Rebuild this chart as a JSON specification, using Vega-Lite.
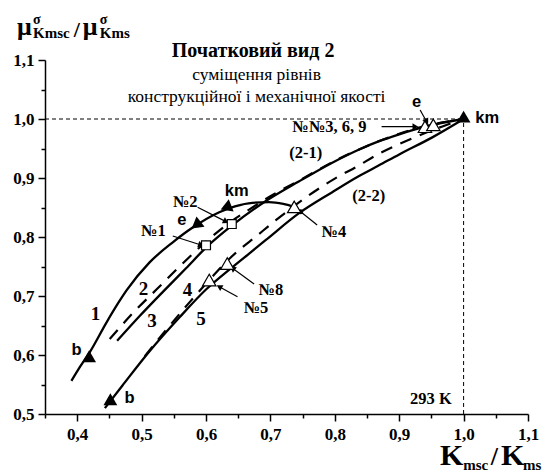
{
  "$schema": "https://vega.github.io/schema/vega-lite/v6.json",
  "width": 483,
  "height": 354,
  "autosize": {"type": "none"},
  "padding": {"left": 45, "top": 60, "right": 15, "bottom": 59},
  "background": "white",
  "config": {"view": {"stroke": null}},
  "datasets": {
    "curves": [
      {"c": "1", "x": 0.391, "y": 0.556}, {"c": "1", "x": 0.405, "y": 0.581}, {"c": "1", "x": 0.4196, "y": 0.605},
      {"c": "1", "x": 0.4454, "y": 0.655}, {"c": "1", "x": 0.466, "y": 0.692}, {"c": "1", "x": 0.4763, "y": 0.709},
      {"c": "1", "x": 0.5124, "y": 0.757}, {"c": "1", "x": 0.5484, "y": 0.791}, {"c": "1", "x": 0.5793, "y": 0.816},
      {"c": "1", "x": 0.6206, "y": 0.842}, {"c": "1", "x": 0.645, "y": 0.852}, {"c": "1", "x": 0.672, "y": 0.858},
      {"c": "1", "x": 0.698, "y": 0.859}, {"c": "1", "x": 0.72, "y": 0.856}, {"c": "1", "x": 0.737, "y": 0.851},
      {"c": "3", "x": 0.462, "y": 0.624}, {"c": "3", "x": 0.497, "y": 0.666}, {"c": "3", "x": 0.533, "y": 0.707},
      {"c": "3", "x": 0.569, "y": 0.747}, {"c": "3", "x": 0.6, "y": 0.782}, {"c": "3", "x": 0.641, "y": 0.82},
      {"c": "3", "x": 0.693, "y": 0.861}, {"c": "3", "x": 0.744, "y": 0.894}, {"c": "3", "x": 0.796, "y": 0.926},
      {"c": "3", "x": 0.837, "y": 0.948}, {"c": "3", "x": 0.868, "y": 0.962}, {"c": "3", "x": 0.9, "y": 0.974},
      {"c": "3", "x": 0.94, "y": 0.987}, {"c": "3", "x": 1.0, "y": 1.0},
      {"c": "5", "x": 0.443, "y": 0.51}, {"c": "5", "x": 0.47, "y": 0.548}, {"c": "5", "x": 0.512, "y": 0.606},
      {"c": "5", "x": 0.559, "y": 0.664}, {"c": "5", "x": 0.6, "y": 0.711}, {"c": "5", "x": 0.641, "y": 0.749},
      {"c": "5", "x": 0.667, "y": 0.772}, {"c": "5", "x": 0.693, "y": 0.795}, {"c": "5", "x": 0.744, "y": 0.84},
      {"c": "5", "x": 0.796, "y": 0.876}, {"c": "5", "x": 0.837, "y": 0.903}, {"c": "5", "x": 0.868, "y": 0.921},
      {"c": "5", "x": 0.9, "y": 0.94}, {"c": "5", "x": 0.95, "y": 0.968}, {"c": "5", "x": 1.0, "y": 1.0}
    ],
    "dashed": [
      {"c": "2", "x": 0.4505, "y": 0.627}, {"c": "2", "x": 0.489, "y": 0.674}, {"c": "2", "x": 0.525, "y": 0.713},
      {"c": "2", "x": 0.559, "y": 0.75}, {"c": "2", "x": 0.6, "y": 0.792}, {"c": "2", "x": 0.64, "y": 0.827},
      {"c": "2", "x": 0.662, "y": 0.843}, {"c": "2", "x": 0.7, "y": 0.869}, {"c": "2", "x": 0.75, "y": 0.899},
      {"c": "2", "x": 0.8, "y": 0.929}, {"c": "2", "x": 0.87, "y": 0.963}, {"c": "2", "x": 0.94, "y": 0.988},
      {"c": "2", "x": 1.0, "y": 1.0},
      {"c": "4", "x": 0.505, "y": 0.598}, {"c": "4", "x": 0.54, "y": 0.645}, {"c": "4", "x": 0.575, "y": 0.69},
      {"c": "4", "x": 0.61, "y": 0.733}, {"c": "4", "x": 0.64, "y": 0.767}, {"c": "4", "x": 0.68, "y": 0.803},
      {"c": "4", "x": 0.708, "y": 0.828}, {"c": "4", "x": 0.755, "y": 0.867}, {"c": "4", "x": 0.8, "y": 0.899},
      {"c": "4", "x": 0.832, "y": 0.918}, {"c": "4", "x": 0.87, "y": 0.942}, {"c": "4", "x": 0.909, "y": 0.962},
      {"c": "4", "x": 0.966, "y": 0.987}, {"c": "4", "x": 1.0, "y": 1.0}
    ],
    "refs": [
      {"x": 0.35, "y": 1.0, "x2": 1.0, "y2": 1.0},
      {"x": 1.0, "y": 0.5, "x2": 1.0, "y2": 1.0}
    ],
    "points": [
      {"m": "b", "x": 0.4185, "y": 0.598},
      {"m": "b", "x": 0.4515, "y": 0.525},
      {"m": "km", "x": 1.0, "y": 1.004},
      {"m": "e", "x": 0.5846, "y": 0.8203},
      {"m": "km1", "x": 0.631, "y": 0.85},
      {"m": "open", "x": 0.605, "y": 0.727},
      {"m": "open", "x": 0.633, "y": 0.755},
      {"m": "open", "x": 0.737, "y": 0.851},
      {"m": "open", "x": 0.94, "y": 0.987},
      {"m": "open", "x": 0.953, "y": 0.99},
      {"m": "square", "x": 0.6, "y": 0.786},
      {"m": "square", "x": 0.64, "y": 0.822}
    ],
    "arrows": [
      {"h": "tri", "x": 0.9427, "y": 0.9954, "x2": 0.9325, "y2": 1.0153},
      {"h": "tri", "x": 0.9252, "y": 0.987, "x2": 0.8727, "y2": 0.987},
      {"h": "dot", "x": 0.747, "y": 0.8429, "x2": 0.7726, "y2": 0.8203},
      {"h": "tri", "x": 0.6412, "y": 0.747, "x2": 0.6747, "y2": 0.7203},
      {"h": "tri", "x": 0.6206, "y": 0.7158, "x2": 0.6489, "y2": 0.6988},
      {"h": "tri", "x": 0.631, "y": 0.826, "x2": 0.587, "y2": 0.8503},
      {"h": "tri", "x": 0.5923, "y": 0.7864, "x2": 0.5484, "y2": 0.8017}
    ],
    "texts": [
      {"g": "title", "t": "Початковий вид 2", "x": 0.6732, "y": 1.1051},
      {"g": "subtitle", "t": "суміщення рівнів", "x": 0.6785, "y": 1.0661},
      {"g": "subtitle", "t": "конструкційної і механічної якості", "x": 0.6785, "y": 1.0293},
      {"g": "curve", "t": "1", "x": 0.4286, "y": 0.6593},
      {"g": "curve", "t": "2", "x": 0.5031, "y": 0.7017},
      {"g": "curve", "t": "3", "x": 0.5162, "y": 0.648},
      {"g": "curve", "t": "4", "x": 0.5711, "y": 0.7005},
      {"g": "curve", "t": "5", "x": 0.5923, "y": 0.6508},
      {"g": "label", "t": "№№3, 6, 9", "x": 0.7915, "y": 0.9785},
      {"g": "label", "t": "(2-1)", "x": 0.7547, "y": 0.9339},
      {"g": "label", "t": "(2-2)", "x": 0.8526, "y": 0.861},
      {"g": "label", "t": "№4", "x": 0.7984, "y": 0.8005},
      {"g": "label", "t": "№2", "x": 0.5677, "y": 0.8514},
      {"g": "label", "t": "№1", "x": 0.5181, "y": 0.8017},
      {"g": "label", "t": "№8", "x": 0.7005, "y": 0.7012},
      {"g": "label", "t": "№5", "x": 0.6774, "y": 0.6717},
      {"g": "label", "t": "293 K", "x": 0.9492, "y": 0.5164},
      {"g": "point", "t": "e", "x": 0.927, "y": 1.0203},
      {"g": "point", "t": "km", "x": 1.0366, "y": 0.9932},
      {"g": "point", "t": "km", "x": 0.6477, "y": 0.87},
      {"g": "point", "t": "e", "x": 0.5626, "y": 0.8203},
      {"g": "point", "t": "b", "x": 0.399, "y": 0.6},
      {"g": "point", "t": "b", "x": 0.4814, "y": 0.518},
      {"g": "bigsym", "t": "μ", "x": 0.3067, "y": 1.1424},
      {"g": "bigsym", "t": "μ", "x": 0.4088, "y": 1.1424},
      {"g": "sup", "t": "σ", "x": 0.3314, "y": 1.1609},
      {"g": "sup", "t": "σ", "x": 0.435, "y": 1.1609},
      {"g": "script", "t": "Kmsc", "x": 0.3314, "y": 1.1373},
      {"g": "script", "t": "Kms", "x": 0.435, "y": 1.1373},
      {"g": "slash", "t": "/", "x": 0.3948, "y": 1.139},
      {"g": "bigK", "t": "K", "x": 0.9634, "y": 0.4136},
      {"g": "bigK", "t": "K", "x": 1.0582, "y": 0.4136},
      {"g": "bigslash", "t": "/", "x": 1.0423, "y": 0.4136},
      {"g": "script", "t": "msc", "x": 0.9995, "y": 0.4051},
      {"g": "script", "t": "ms", "x": 1.0922, "y": 0.4051}
    ]
  },
  "encoding": {
    "x": {
      "field": "x", "type": "quantitative",
      "scale": {"domain": [0.35, 1.1], "nice": false, "zero": false},
      "axis": {
        "values": [0.35, 0.4, 0.45, 0.5, 0.55, 0.6, 0.65, 0.7, 0.75, 0.8, 0.85, 0.9, 0.95, 1.0, 1.05, 1.1],
        "labelExpr": "abs(datum.value*10-round(datum.value*10))<0.001 ? replace(format(datum.value,'.1f'),'.',',') : ''",
        "tickSize": {"condition": {"test": "abs(datum.value*10-round(datum.value*10))<0.001", "value": 7}, "value": 4},
        "title": null, "grid": false,
        "domainColor": "black", "domainWidth": 1.5,
        "tickColor": "black", "tickWidth": 1.5,
        "labelFont": "Liberation Serif", "labelFontWeight": "bold", "labelFontSize": 17, "labelColor": "black",
        "labelPadding": 5, "labelFlush": false, "labelOverlap": false
      }
    },
    "y": {
      "field": "y", "type": "quantitative",
      "scale": {"domain": [0.5, 1.1], "nice": false, "zero": false},
      "axis": {
        "values": [0.5, 0.55, 0.6, 0.65, 0.7, 0.75, 0.8, 0.85, 0.9, 0.95, 1.0, 1.05, 1.1],
        "labelExpr": "abs(datum.value*10-round(datum.value*10))<0.001 ? replace(format(datum.value,'.1f'),'.',',') : ''",
        "tickSize": {"condition": {"test": "abs(datum.value*10-round(datum.value*10))<0.001", "value": 7}, "value": 4},
        "title": null, "grid": false,
        "domainColor": "black", "domainWidth": 1.5,
        "tickColor": "black", "tickWidth": 1.5,
        "labelFont": "Liberation Serif", "labelFontWeight": "bold", "labelFontSize": 17, "labelColor": "black",
        "labelPadding": 4, "labelFlush": false, "labelOverlap": false
      }
    }
  },
  "layer": [
    {
      "data": {"name": "refs"},
      "mark": {"type": "rule", "color": "black", "strokeWidth": 1, "strokeDash": [4, 3]},
      "encoding": {"x2": {"field": "x2"}, "y2": {"field": "y2"}}
    },
    {
      "data": {"name": "curves"},
      "mark": {"type": "line", "color": "black", "strokeWidth": 2.3, "interpolate": "monotone"},
      "encoding": {"detail": {"field": "c"}}
    },
    {
      "data": {"name": "dashed"},
      "mark": {"type": "line", "color": "black", "strokeWidth": 2.2, "strokeDash": [12, 9], "interpolate": "monotone"},
      "encoding": {"detail": {"field": "c"}}
    },
    {
      "data": {"name": "arrows"},
      "mark": {"type": "rule", "color": "black", "strokeWidth": 1.2},
      "encoding": {"x2": {"field": "x2"}, "y2": {"field": "y2"}}
    },
    {
      "data": {"name": "arrows"},
      "transform": [
        {"filter": "datum.h == 'tri'"},
        {"calculate": "atan2((datum.x-datum.x2)*646.7,(datum.y-datum.y2)*590)*180/PI", "as": "ang"}
      ],
      "mark": {"type": "point", "shape": "triangle-up", "filled": true, "color": "black", "size": 45, "opacity": 1},
      "encoding": {"angle": {"field": "ang", "type": "quantitative", "scale": null}}
    },
    {
      "data": {"name": "arrows"},
      "transform": [{"filter": "datum.h == 'dot'"}],
      "mark": {"type": "point", "shape": "circle", "filled": true, "color": "black", "size": 25, "opacity": 1}
    },
    {
      "data": {"name": "points"},
      "transform": [{"filter": "datum.m == 'b' || datum.m == 'km'"}],
      "mark": {"type": "point", "shape": "triangle-up", "filled": true, "color": "black", "size": 190, "opacity": 1}
    },
    {
      "data": {"name": "points"},
      "transform": [{"filter": "datum.m == 'e'"}],
      "mark": {"type": "point", "shape": "triangle-up", "filled": true, "color": "black", "size": 170, "opacity": 1, "angle": -128}
    },
    {
      "data": {"name": "points"},
      "transform": [{"filter": "datum.m == 'km1'"}],
      "mark": {"type": "point", "shape": "triangle-up", "filled": true, "color": "black", "size": 170, "opacity": 1, "angle": -112}
    },
    {
      "data": {"name": "points"},
      "transform": [{"filter": "datum.m == 'open'"}],
      "mark": {"type": "point", "shape": "triangle-up", "filled": true, "fill": "white", "stroke": "black", "strokeWidth": 1.2, "size": 180, "opacity": 1}
    },
    {
      "data": {"name": "points"},
      "transform": [{"filter": "datum.m == 'square'"}],
      "mark": {"type": "point", "shape": "square", "filled": true, "fill": "white", "stroke": "black", "strokeWidth": 1.2, "size": 80, "opacity": 1}
    },
    {
      "data": {"name": "texts"},
      "transform": [{"filter": "datum.g == 'title'"}],
      "mark": {"type": "text", "font": "Liberation Serif", "fontWeight": "bold", "fontSize": 20, "align": "center", "baseline": "alphabetic", "color": "black"},
      "encoding": {"text": {"field": "t"}}
    },
    {
      "data": {"name": "texts"},
      "transform": [{"filter": "datum.g == 'subtitle'"}],
      "mark": {"type": "text", "font": "Liberation Serif", "fontSize": 17.5, "align": "center", "baseline": "alphabetic", "color": "black"},
      "encoding": {"text": {"field": "t"}}
    },
    {
      "data": {"name": "texts"},
      "transform": [{"filter": "datum.g == 'curve'"}],
      "mark": {"type": "text", "font": "Liberation Serif", "fontWeight": "bold", "fontSize": 19, "align": "center", "baseline": "alphabetic", "color": "black"},
      "encoding": {"text": {"field": "t"}}
    },
    {
      "data": {"name": "texts"},
      "transform": [{"filter": "datum.g == 'label'"}],
      "mark": {"type": "text", "font": "Liberation Serif", "fontWeight": "bold", "fontSize": 16.5, "align": "center", "baseline": "alphabetic", "color": "black"},
      "encoding": {"text": {"field": "t"}}
    },
    {
      "data": {"name": "texts"},
      "transform": [{"filter": "datum.g == 'point'"}],
      "mark": {"type": "text", "font": "Liberation Sans", "fontWeight": "bold", "fontSize": 16.5, "align": "center", "baseline": "alphabetic", "color": "black"},
      "encoding": {"text": {"field": "t"}}
    },
    {
      "data": {"name": "texts"},
      "transform": [{"filter": "datum.g == 'bigsym'"}],
      "mark": {"type": "text", "font": "Liberation Serif", "fontWeight": "bold", "fontSize": 26, "align": "left", "baseline": "alphabetic", "color": "black"},
      "encoding": {"text": {"field": "t"}}
    },
    {
      "data": {"name": "texts"},
      "transform": [{"filter": "datum.g == 'sup'"}],
      "mark": {"type": "text", "font": "Liberation Serif", "fontWeight": "bold", "fontSize": 14, "align": "left", "baseline": "alphabetic", "color": "black"},
      "encoding": {"text": {"field": "t"}}
    },
    {
      "data": {"name": "texts"},
      "transform": [{"filter": "datum.g == 'script'"}],
      "mark": {"type": "text", "font": "Liberation Serif", "fontWeight": "bold", "fontSize": 15, "align": "left", "baseline": "alphabetic", "color": "black"},
      "encoding": {"text": {"field": "t"}}
    },
    {
      "data": {"name": "texts"},
      "transform": [{"filter": "datum.g == 'slash'"}],
      "mark": {"type": "text", "font": "Liberation Serif", "fontWeight": "bold", "fontSize": 22, "align": "left", "baseline": "alphabetic", "color": "black"},
      "encoding": {"text": {"field": "t"}}
    },
    {
      "data": {"name": "texts"},
      "transform": [{"filter": "datum.g == 'bigK'"}],
      "mark": {"type": "text", "font": "Liberation Serif", "fontWeight": "bold", "fontSize": 30, "align": "left", "baseline": "alphabetic", "color": "black"},
      "encoding": {"text": {"field": "t"}}
    },
    {
      "data": {"name": "texts"},
      "transform": [{"filter": "datum.g == 'bigslash'"}],
      "mark": {"type": "text", "font": "Liberation Serif", "fontWeight": "bold", "fontSize": 26, "align": "left", "baseline": "alphabetic", "color": "black"},
      "encoding": {"text": {"field": "t"}}
    }
  ]
}
